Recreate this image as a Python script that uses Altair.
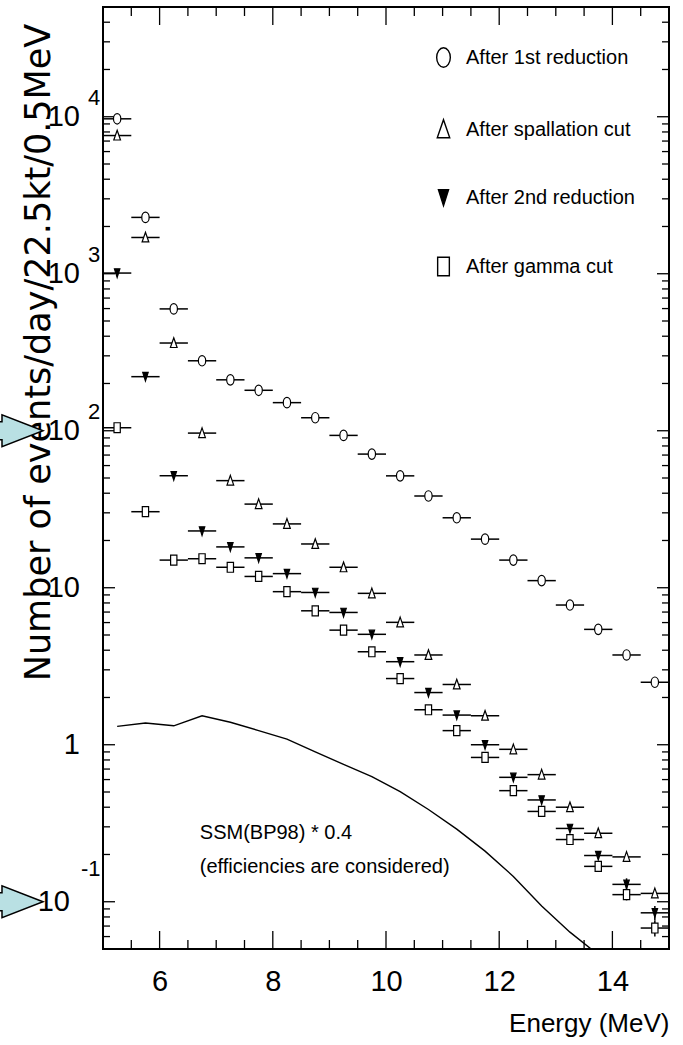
import altair as alt
import pandas as pd

SANS = "Liberation Sans, Arial, Helvetica, sans-serif"
WIDE = "DejaVu Sans, Verdana, sans-serif"

# Energy bin centres (MeV); each bin is 0.5 MeV wide
energy = [5.25, 5.75, 6.25, 6.75, 7.25, 7.75, 8.25, 8.75, 9.25, 9.75,
          10.25, 10.75, 11.25, 11.75, 12.25, 12.75, 13.25, 13.75, 14.25, 14.75]
bin_half_width = 0.25

# Event rates (events/day/22.5kt/0.5MeV) after each reduction step
first_reduction = [9700, 2285, 597, 279, 211, 181, 151, 121, 93.4, 71.0,
                   51.6, 38.4, 27.9, 20.4, 15.0, 11.1, 7.76, 5.43, 3.73, 2.50]
spallation_cut = [7590, 1702, 362, 96.6, 48.1, 34.1, 25.5, 19.0, 13.5, 9.21,
                  6.02, 3.73, 2.42, 1.53, 0.935, 0.645, 0.400, 0.273, 0.193, 0.113]
second_reduction = [1010, 221, 51.7, 23.0, 18.2, 15.5, 12.3, 9.33, 6.96, 5.05,
                    3.38, 2.15, 1.545, 1.00, 0.620, 0.445, 0.293, 0.197, 0.129, 0.085]
gamma_cut = [104.5, 30.5, 15.0, 15.3, 13.5, 11.8, 9.44, 7.13, 5.37, 3.91,
             2.64, 1.67, 1.23, 0.830, 0.510, 0.376, 0.249, 0.168, 0.111, 0.068]

# Statistical errors (only the last bins have bars longer than the markers)
first_reduction_err = [0, 0, 0, 0, 0, 0, 0, 0, 0, 0,
                       0, 0, 0, 0, 0, 0, 0, 0, 0, 0]
spallation_cut_err = [0, 0, 0, 0, 0, 0, 0, 0, 0, 0,
                      0, 0, 0, 0, 0, 0, 0, 0, 0, 0]
second_reduction_err = [0, 0, 0, 0, 0, 0, 0, 0, 0, 0,
                        0, 0, 0, 0, 0, 0, 0, 0, 0.012, 0.009]
gamma_cut_err = [0, 0, 0, 0, 0, 0, 0, 0, 0, 0,
                 0, 0, 0, 0, 0, 0, 0, 0, 0.009, 0.008]

# Expected 8B spectrum, SSM(BP98) x 0.4 with efficiencies applied
ssm_expected = [1.31, 1.375, 1.32, 1.53, 1.39, 1.23, 1.087, 0.90, 0.75, 0.627,
                0.503, 0.387, 0.29, 0.21, 0.145, 0.094, 0.064, 0.046, 0.030, 0.019]

series_names = ["After 1st reduction", "After spallation cut",
                "After 2nd reduction", "After gamma cut"]
series_values = [first_reduction, spallation_cut, second_reduction, gamma_cut]
series_errors = [first_reduction_err, spallation_cut_err, second_reduction_err, gamma_cut_err]

# Tick positions
x_label_values = [6, 8, 10, 12, 14]
x_minor_values = [5.5, 6.5, 7, 7.5, 8.5, 9, 9.5, 10.5, 11, 11.5, 12.5, 13, 13.5, 14.5]
y_major_values = [0.1, 1, 10, 100, 1000, 10000]
y_minor_values = [m * 10.0 ** d for d in range(-2, 5) for m in range(2, 10)
                  if 0.05 < m * 10.0 ** d < 50000]

# Tick label text for the log axis: mantissa and exponent
y_label_base = ["10", "1", "10", "10", "10", "10"]
y_label_exp = ["-1", "", "", "2", "3", "4"]

rows = []
for name, vals, errs in zip(series_names, series_values, series_errors):
    for e, v, dv in zip(energy, vals, errs):
        rows.append({"energy": e, "value": v, "series": name,
                     "lo": v - dv, "hi": v + dv, "dv": dv})
points_df = pd.DataFrame(rows)
ssm_df = pd.DataFrame({"energy": energy, "value": ssm_expected})
ylab_df = pd.DataFrame({"value": y_major_values, "base": y_label_base, "exp": y_label_exp})

W, H = 566, 942

xscale = alt.Scale(domain=[5, 15], nice=False, zero=False)
yscale = alt.Scale(type="log", domain=[0.05, 50000], nice=False)

xaxis = alt.Axis(values=x_label_values, ticks=False, domain=False, grid=False,
                 labelFont=SANS, labelFontSize=29, labelPadding=18, labelColor="black",
                 labelFlush=False, format="d",
                 title="Energy (MeV)", titleFont=SANS, titleFontSize=26,
                 titleFontWeight="normal", titleColor="black", titleAlign="right",
                 titleX=W, titleY=82, titleBaseline="alphabetic")
yaxis = alt.Axis(labels=False, ticks=False, domain=False, grid=False,
                 title="Number of events/day/22.5kt/0.5MeV", titleFont=WIDE,
                 titleFontSize=35, titleFontWeight="normal", titleColor="black",
                 titleAngle=270, titleAlign="center", titleBaseline="middle",
                 titleX=-65, titleY=345)

X = alt.X("energy:Q", scale=xscale, axis=xaxis)
Y = alt.Y("value:Q", scale=yscale, axis=yaxis)


def tick_rules(values, axis_kind, length):
    if axis_kind in ("bottom", "top"):
        df = pd.DataFrame({"energy": values})
        y0 = H if axis_kind == "bottom" else 0
        y1 = y0 - length if axis_kind == "bottom" else length
        return alt.Chart(df).mark_rule(color="black", strokeWidth=1.3).encode(
            x=X, y=alt.value(y0), y2=alt.value(y1))
    df = pd.DataFrame({"value": values})
    x0 = 0 if axis_kind == "left" else W
    x1 = length if axis_kind == "left" else W - length
    return alt.Chart(df).mark_rule(color="black", strokeWidth=1.3).encode(
        y=Y, x=alt.value(x0), x2=alt.value(x1))


ticks = [
    tick_rules(x_label_values, "bottom", 18), tick_rules(x_minor_values, "bottom", 9),
    tick_rules(x_label_values, "top", 18), tick_rules(x_minor_values, "top", 9),
    tick_rules(y_major_values, "left", 12), tick_rules(y_minor_values, "left", 7),
    tick_rules(y_major_values, "right", 12), tick_rules(y_minor_values, "right", 7),
]

ssm_line = alt.Chart(ssm_df).mark_line(color="black", strokeWidth=1.4, clip=True).encode(
    x=X, y=Y)

hbars = alt.Chart(points_df).transform_calculate(
    e_lo=f"datum.energy - {bin_half_width}", e_hi=f"datum.energy + {bin_half_width}"
).mark_rule(color="black", strokeWidth=1.5).encode(
    x=alt.X("e_lo:Q", scale=xscale, axis=xaxis), x2="e_hi:Q", y=Y)

vbars = alt.Chart(points_df).transform_filter("datum.dv > 0").mark_rule(
    color="black", strokeWidth=1.5).encode(
    x=X, y=alt.Y("lo:Q", scale=yscale, axis=yaxis), y2="hi:Q")

ellipse = "M0,-1 A0.7,1 0 1,1 0,1 A0.7,1 0 1,1 0,-1 Z"
tri_up = "M0,-1 L0.64,0.85 L-0.64,0.85 Z"
tri_down = "M-0.52,-0.8 L0.52,-0.8 L0,0.85 Z"
rect = "M-0.6,-0.95 L0.6,-0.95 L0.6,0.95 L-0.6,0.95 Z"

legend = alt.Legend(title=None, orient="none", legendX=330, legendY=40,
                    direction="vertical", labelFont=SANS, labelFontSize=20,
                    labelColor="black", symbolSize=380, symbolStrokeWidth=1.4,
                    symbolStrokeColor="black", rowPadding=45, labelOffset=12,
                    padding=0, labelLimit=400)

markers = alt.Chart(points_df).mark_point(
    filled=True, size=110, strokeWidth=1.2, opacity=1
).encode(
    x=X, y=Y,
    shape=alt.Shape("series:N", scale=alt.Scale(domain=series_names,
                    range=[ellipse, tri_up, tri_down, rect]), legend=legend),
    fill=alt.Fill("series:N", scale=alt.Scale(domain=series_names,
                  range=["white", "white", "black", "white"]), legend=legend),
    stroke=alt.Stroke("series:N", scale=alt.Scale(domain=series_names,
                      range=["black", "black", "black", "black"]), legend=legend),
)

base_main = alt.Chart(ylab_df).transform_filter("datum.value >= 1").mark_text(
    align="right", baseline="middle", font=SANS, fontSize=29, color="black"
).encode(y=Y, x=alt.value(-23), text="base:N")
base_small = alt.Chart(ylab_df).transform_filter("datum.value < 1").mark_text(
    align="right", baseline="middle", font=SANS, fontSize=29, color="black"
).encode(y=Y, x=alt.value(-33), text="base:N")
exp_main = alt.Chart(ylab_df).transform_filter("datum.value > 10").mark_text(
    align="left", baseline="middle", font=SANS, fontSize=22, color="black", dy=-19
).encode(y=Y, x=alt.value(-15), text="exp:N")
exp_small = alt.Chart(ylab_df).transform_filter("datum.value < 1").mark_text(
    align="left", baseline="middle", font=SANS, fontSize=22, color="black", dy=-33
).encode(y=Y, x=alt.value(-22), text="exp:N")

# Block arrows pointing at the 10^2 and 10^-1 labels
arrow_path = "M0,0 L-41,-16 L-41,-9 L-90,-9 L-90,9 L-41,9 L-41,16 Z"
arrows = [
    alt.Chart().mark_point(shape=arrow_path, size=4, filled=True, fill="#b9e0e3",
                           stroke="black", strokeWidth=1.5, opacity=1).encode(
        x=alt.value(-60), y=alt.datum(v, scale=yscale, axis=yaxis))
    for v in (100, 0.1)
]

note1 = alt.Chart().mark_text(align="left", baseline="middle", font=SANS,
                              fontSize=20, color="black").encode(
    x=alt.datum(6.71, scale=xscale, axis=xaxis), y=alt.datum(0.275, scale=yscale, axis=yaxis),
    text=alt.value("SSM(BP98) * 0.4"))
note2 = alt.Chart().mark_text(align="left", baseline="middle", font=SANS,
                              fontSize=20, color="black").encode(
    x=alt.datum(6.71, scale=xscale, axis=xaxis), y=alt.datum(0.167, scale=yscale, axis=yaxis),
    text=alt.value("(efficiencies are considered)"))

chart = alt.layer(
    *ticks, ssm_line, hbars, vbars, markers,
    base_main, base_small, exp_main, exp_small, *arrows, note1, note2
).properties(
    width=W, height=H, autosize="none",
    padding={"left": 103, "top": 7, "right": 14, "bottom": 96},
    background="white",
).configure_view(stroke="black", strokeWidth=2)

chart.save("out.html", embed_options={"renderer": "svg", "actions": False})
